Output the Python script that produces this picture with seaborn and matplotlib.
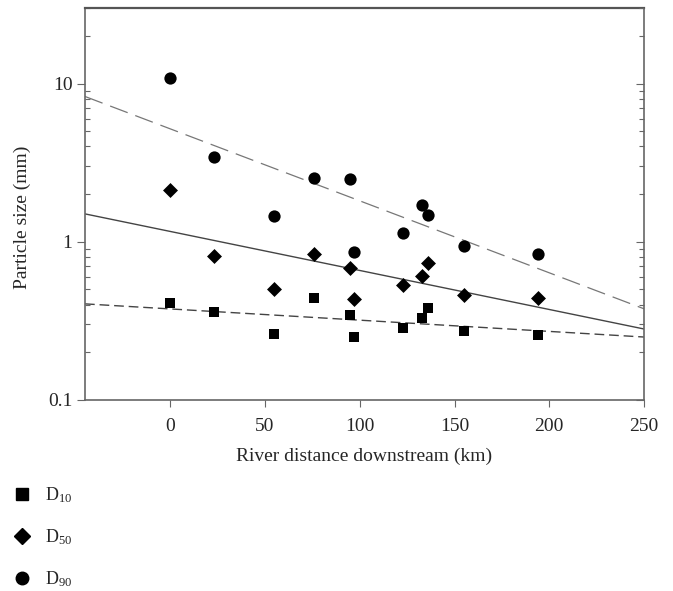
import numpy as np
import pandas as pd
import matplotlib
matplotlib.use("Agg")
import matplotlib.pyplot as plt
import seaborn as sns
from matplotlib.lines import Line2D

sns.set_style("white")
plt.rcParams['font.family'] = ['Liberation Serif', 'DejaVu Serif']
plt.rcParams['mathtext.fontset'] = 'custom'
plt.rcParams['mathtext.rm'] = 'Liberation Serif'
plt.rcParams['mathtext.it'] = 'Liberation Serif:italic'

# ---- data ----
distance = [0, 23, 55, 76, 95, 97, 123, 133, 136, 155, 194]
d10 = [0.41, 0.36, 0.262, 0.44, 0.345, 0.25, 0.286, 0.33, 0.38, 0.273, 0.258]
d50 = [2.13, 0.815, 0.50, 0.84, 0.68, 0.435, 0.53, 0.61, 0.73, 0.46, 0.44]
d90 = [10.9, 3.45, 1.46, 2.54, 2.5, 0.86, 1.14, 1.71, 1.48, 0.94, 0.84]
series_names = ["D10", "D50", "D90"]
series_labels = [r"D$_{10}$", r"D$_{50}$", r"D$_{90}$"]
fit_x = [-45, 250]
fit_d10 = [0.405, 0.25]
fit_d50 = [1.50, 0.281]
fit_d90 = [8.28, 0.377]
x_ticks = [0, 50, 100, 150, 200, 250]
y_ticks = [0.1, 1, 10]
y_ticklabels = ["0.1", "1", "10"]

df = pd.DataFrame({
    "distance": distance * 3,
    "size": d10 + d50 + d90,
    "series": [s for s in series_names for _ in distance],
})
fits = pd.DataFrame({
    "distance": fit_x * 3,
    "size": fit_d10 + fit_d50 + fit_d90,
    "series": [s for s in series_names for _ in fit_x],
})

W, H = 673, 591
fig = plt.figure(figsize=(W / 100, H / 100), dpi=100)
ax = fig.add_axes([85 / W, (H - 400) / H, (644 - 85) / W, (400 - 8) / H])

line_style = {
    "D10": dict(color="#444444", lw=1.0, dashes=(7, 3.5)),
    "D50": dict(color="#444444", lw=1.0, dashes=None),
    "D90": dict(color="#777777", lw=0.9, dashes=(15, 6.5)),
}
for s in series_names:
    sub = fits[fits.series == s]
    st = line_style[s]
    sns.lineplot(data=sub, x="distance", y="size", ax=ax, color=st["color"],
                 lw=st["lw"], legend=False, estimator=None, sort=False)
    ln = ax.lines[-1]
    if st["dashes"] is not None:
        ln.set_dashes(st["dashes"])

markers = {"D10": "s", "D50": "D", "D90": "o"}
sizes = {"D10": 52, "D50": 58, "D90": 78}
for s in series_names:
    sub = df[df.series == s]
    sns.scatterplot(data=sub, x="distance", y="size", ax=ax, marker=markers[s],
                    color="black", s=sizes[s], edgecolor="black", linewidth=0,
                    legend=False, zorder=3)

ax.set_yscale("log")
ax.set_xlim(-45, 250)
ax.set_ylim(0.1, 30)
ax.set_xticks(x_ticks)
ax.set_xticklabels([str(t) for t in x_ticks])
ax.set_yticks(y_ticks)
ax.set_yticklabels(y_ticklabels)
ax.yaxis.set_minor_locator(matplotlib.ticker.LogLocator(base=10, subs=np.arange(2, 10)))
ax.yaxis.set_minor_formatter(matplotlib.ticker.NullFormatter())

for sp in ax.spines.values():
    sp.set_color("#666666")
    sp.set_linewidth(1.2)
ax.spines["top"].set_color("#555555")
ax.spines["top"].set_linewidth(1.6)

ax.tick_params(axis="x", which="major", direction="out", length=5, width=0.8,
               color="#666666", labelsize=14, pad=8, bottom=True)
ax.tick_params(axis="y", which="major", direction="out", length=6, width=0.8,
               color="#666666", labelsize=14, left=True, pad=3)
ax.tick_params(axis="y", which="minor", direction="in", length=3.5, width=0.8,
               color="#666666", left=True)

ax2 = ax.twinx()
ax2.set_yscale("log")
ax2.set_ylim(0.1, 30)
ax2.set_yticks(y_ticks)
ax2.yaxis.set_minor_locator(matplotlib.ticker.LogLocator(base=10, subs=np.arange(2, 10)))
ax2.tick_params(axis="y", which="both", direction="in", right=True, labelright=False,
                color="#666666", width=0.8)
ax2.tick_params(axis="y", which="major", length=6)
ax2.tick_params(axis="y", which="minor", length=3.5)
for sp in ax2.spines.values():
    sp.set_visible(False)

ax.set_xlabel("River distance downstream (km)", fontsize=14, labelpad=9)
ax.set_ylabel("Particle size (mm)", fontsize=14)
ax.yaxis.set_label_coords(-0.097, 0.467)

handles = [Line2D([], [], marker=markers[s], color="black", linestyle="none",
                  markersize={"D10": 8, "D50": 8, "D90": 9}[s]) for s in series_names]
fig.legend(handles, series_labels, loc="upper left",
           bbox_to_anchor=(4 / W, 1 - 476 / H), frameon=False, fontsize=13,
           labelspacing=1.25, handletextpad=0.75, handlelength=1.0, borderpad=0)

fig.savefig("out.png", dpi=100)
